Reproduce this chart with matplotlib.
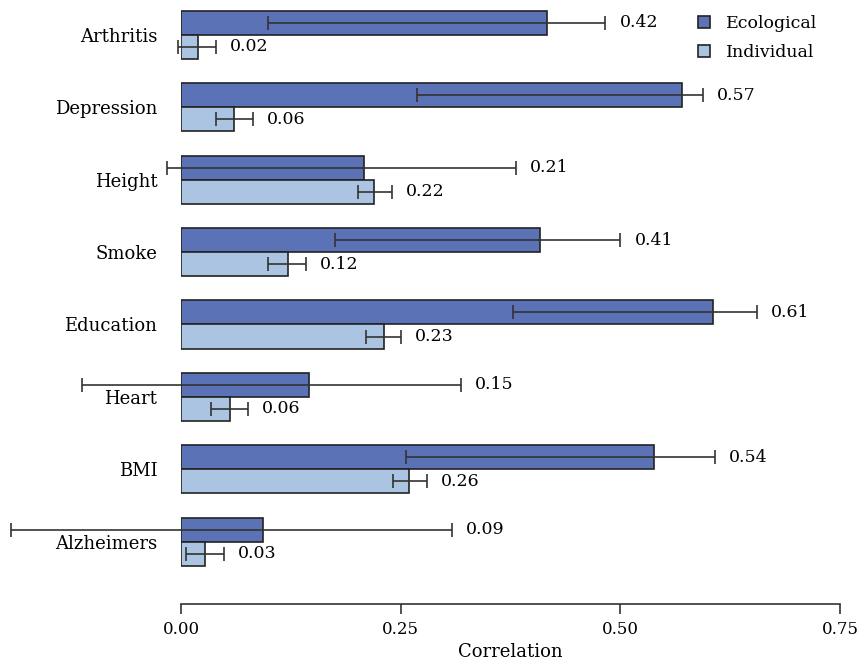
import matplotlib.pyplot as plt
import numpy as np

plt.rcParams['font.family'] = ['DejaVu Serif']

categories = ['Arthritis', 'Depression', 'Height', 'Smoke', 'Education',
              'Heart', 'BMI', 'Alzheimers']

eco_vals = [0.417, 0.570, 0.208, 0.409, 0.606, 0.146, 0.538, 0.093]
eco_lo = [0.099, 0.269, -0.016, 0.175, 0.378, -0.1125, 0.256, -0.194]
eco_hi = [0.483, 0.594, 0.381, 0.500, 0.655, 0.319, 0.608, 0.308]
eco_labels = ['0.42', '0.57', '0.21', '0.41', '0.61', '0.15', '0.54', '0.09']

ind_vals = [0.019, 0.060, 0.220, 0.122, 0.231, 0.056, 0.259, 0.027]
ind_lo = [-0.003, 0.040, 0.201, 0.099, 0.210, 0.034, 0.241, 0.006]
ind_hi = [0.040, 0.082, 0.240, 0.142, 0.250, 0.076, 0.280, 0.049]
ind_labels = ['0.02', '0.06', '0.22', '0.12', '0.23', '0.06', '0.26', '0.03']

eco_color = '#5b72b7'
ind_color = '#aac4e2'
edge = '#222222'

fig = plt.figure(figsize=(8.57, 6.62), dpi=100)
ax = fig.add_axes([0.2112, 0.0876, 0.769, 0.897])

y = np.arange(len(categories))
h = 0.333

eco_vals = np.array(eco_vals)
ind_vals = np.array(ind_vals)

ax.barh(y - h / 2, eco_vals, height=h, color=eco_color, edgecolor=edge,
        linewidth=1.2, label='Ecological')
ax.barh(y + h / 2, ind_vals, height=h, color=ind_color, edgecolor=edge,
        linewidth=1.2, label='Individual')

for ys, vals, lo, hi, labs in [(y - h / 2, eco_vals, eco_lo, eco_hi, eco_labels),
                               (y + h / 2, ind_vals, ind_lo, ind_hi, ind_labels)]:
    lo = np.array(lo)
    hi = np.array(hi)
    err = np.vstack([vals - lo, hi - vals])
    eb = ax.errorbar(vals, ys, xerr=err, fmt='none', ecolor='#333333',
                     elinewidth=1.2, capsize=5, capthick=1.2)
    for art in list(eb.lines[1]) + list(eb.lines[2]):
        art.set_clip_on(False)
    for i in range(len(vals)):
        ax.text(hi[i] + 0.016, ys[i], labs[i], va='center',
                ha='left', fontsize=12.5)

ax.set_yticks(y)
ax.set_yticklabels(categories)
ax.tick_params(axis='y', length=0, pad=17, labelsize=13)
ax.set_xlim(0, 0.75)
ax.set_ylim(7.86, -0.34)
ax.set_xticks([0, 0.25, 0.5, 0.75])
ax.set_xticklabels(['0.00', '0.25', '0.50', '0.75'])
ax.tick_params(axis='x', length=7, width=1.2, color='#333333', pad=5,
               labelsize=12)
ax.set_xlabel('Correlation', fontsize=13, labelpad=4)

for s in ['top', 'right', 'left']:
    ax.spines[s].set_visible(False)
ax.spines['bottom'].set_linewidth(1.2)
ax.spines['bottom'].set_color('#333333')

ax.legend(loc='upper right', bbox_to_anchor=(826 / 857, 1 - 6 / 662),
          bbox_transform=fig.transFigure, frameon=False, borderpad=0,
          fontsize=12.5, handlelength=0.7, handleheight=0.7, handletextpad=0.9,
          labelspacing=0.7)

fig.savefig('out.png', dpi=100)
